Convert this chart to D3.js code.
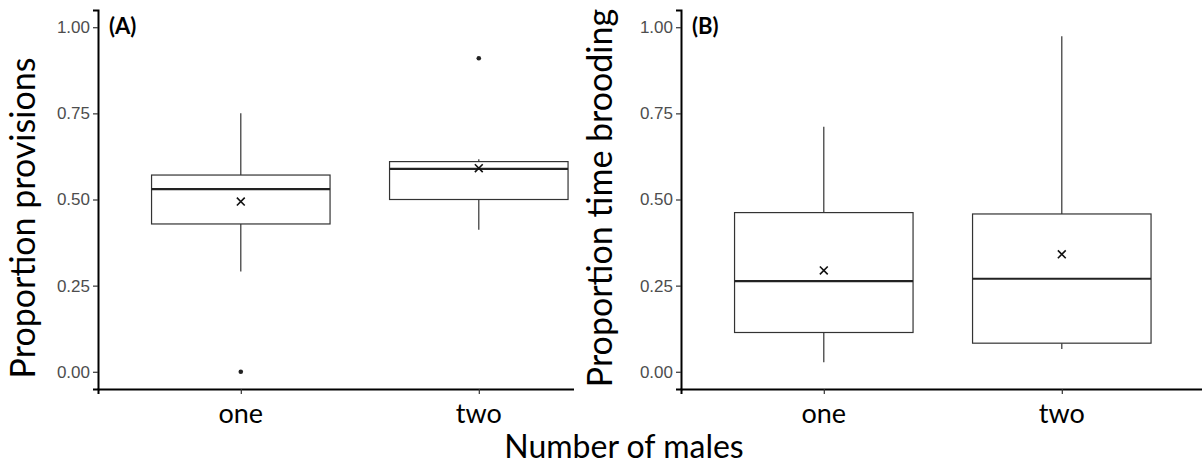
<!DOCTYPE html>
<html lang="en">
<head>
<meta charset="UTF-8">
<title>Number of males</title>
<style>
  body { margin: 0; background: #fff; }
  .tick text { font-family: "Liberation Sans", Arial, sans-serif; font-size: 17px; fill: #4d4d4d; }
  .lab { font-family: Lato, "Open Sans", sans-serif; fill: #000; }
</style>
</head>
<body>
<div id="chart"></div>
<script src="https://d3js.org/d3.v7.min.js"></script>
<script>
// groups on the x axis
const groups = ["one", "two"];
const yTicks = [0, 0.25, 0.5, 0.75, 1];

// panel A: proportion provisions (box stats)
const provLow = [0.291, 0.412];
const provQ1 = [0.429, 0.500];
const provMed = [0.530, 0.589];
const provQ3 = [0.571, 0.610];
const provHigh = [0.750, 0.617];
const provMean = [0.494, 0.591];
const provOut = [["one", 0.0], ["two", 0.910]];

// panel B: proportion time brooding
const broodLow = [0.028, 0.066];
const broodQ1 = [0.114, 0.083];
const broodMed = [0.263, 0.270];
const broodQ3 = [0.462, 0.458];
const broodHigh = [0.711, 0.974];
const broodMean = [0.294, 0.341];
const broodOut = [];

function stats(low, q1, med, q3, high, mean) {
  return groups.map((g, i) => ({g: g, low: low[i], q1: q1[i], med: med[i], q3: q3[i], high: high[i], mean: mean[i]}));
}

const svg = d3.select("#chart").append("svg").attr("width", 1202).attr("height", 466);

const plotTop = 10, plotBottom = 389;
const unit = 238;   // distance between the two groups

function panel(opt) {
  const p = svg.append("svg")
      .attr("x", opt.x).attr("y", 0)
      .attr("width", opt.w).attr("height", 466);

  const x = d3.scalePoint().domain(groups).padding(0.6)
      .range([opt.left, opt.left + unit * 2.2]);
  const y = d3.scaleLinear().domain([-0.05, 1.05]).range([plotBottom, plotTop]);
  const bw = unit * 0.75;

  const xAxis = p.append("g")
      .attr("transform", "translate(0," + plotBottom + ")")
      .call(d3.axisBottom(x).tickSize(5).tickFormat(""));
  const yAxis = p.append("g")
      .attr("transform", "translate(" + opt.left + ",0)")
      .call(d3.axisLeft(y).tickValues(yTicks).tickSize(5).tickPadding(3).tickFormat(d3.format(".2f")));
  [xAxis, yAxis].forEach(a => {
    a.select(".domain").attr("stroke", "#000").attr("stroke-width", 2);
    a.selectAll(".tick line").attr("stroke", "#333").attr("stroke-width", 1.2);
  });

  const b = p.selectAll(".box").data(opt.data).enter().append("g").attr("class", "box");
  b.append("line")
      .attr("x1", d => x(d.g)).attr("x2", d => x(d.g))
      .attr("y1", d => y(d.high)).attr("y2", d => y(d.q3))
      .attr("stroke", "#333").attr("stroke-width", 1.2);
  b.append("line")
      .attr("x1", d => x(d.g)).attr("x2", d => x(d.g))
      .attr("y1", d => y(d.q1)).attr("y2", d => y(d.low))
      .attr("stroke", "#333").attr("stroke-width", 1.2);
  b.append("rect")
      .attr("x", d => x(d.g) - bw / 2).attr("width", bw)
      .attr("y", d => y(d.q3)).attr("height", d => y(d.q1) - y(d.q3))
      .attr("fill", "#fff").attr("stroke", "#333").attr("stroke-width", 1.2);
  b.append("line")
      .attr("x1", d => x(d.g) - bw / 2).attr("x2", d => x(d.g) + bw / 2)
      .attr("y1", d => y(d.med)).attr("y2", d => y(d.med))
      .attr("stroke", "#222").attr("stroke-width", 2.2);
  b.append("path")
      .attr("transform", d => "translate(" + x(d.g) + "," + y(d.mean) + ")")
      .attr("d", d3.symbol(d3.symbolX, 42))
      .attr("fill", "none").attr("stroke", "#111").attr("stroke-width", 1.6);

  p.selectAll(".out").data(opt.out).enter().append("circle")
      .attr("cx", d => x(d[0])).attr("cy", d => y(d[1])).attr("r", 2.3)
      .attr("fill", "#222");

  p.selectAll(".glab").data(groups).enter().append("text")
      .attr("class", "lab")
      .attr("x", d => x(d)).attr("y", 423)
      .attr("text-anchor", "middle").attr("font-size", 27)
      .text(d => d);

  p.append("text").attr("class", "lab")
      .attr("x", opt.left + 11).attr("y", 34)
      .attr("font-size", 22).attr("font-weight", "bold")
      .text(opt.tag);

  p.append("text").attr("class", "lab")
      .attr("transform", "translate(" + opt.labX + "," + opt.labY + ") rotate(-90)")
      .attr("text-anchor", "middle").attr("font-size", 34)
      .text(opt.title);
}

panel({x: 0, w: 574, left: 98, data: stats(provLow, provQ1, provMed, provQ3, provHigh, provMean),
       out: provOut, tag: "(A)", title: "Proportion provisions", labX: 35, labY: 218});
panel({x: 578, w: 624, left: 103, data: stats(broodLow, broodQ1, broodMed, broodQ3, broodHigh, broodMean),
       out: broodOut, tag: "(B)", title: "Proportion time brooding", labX: 34, labY: 198});

svg.append("text").attr("class", "lab")
    .attr("x", 624).attr("y", 458)
    .attr("text-anchor", "middle").attr("font-size", 32)
    .text("Number of males");
</script>
</body>
</html>
